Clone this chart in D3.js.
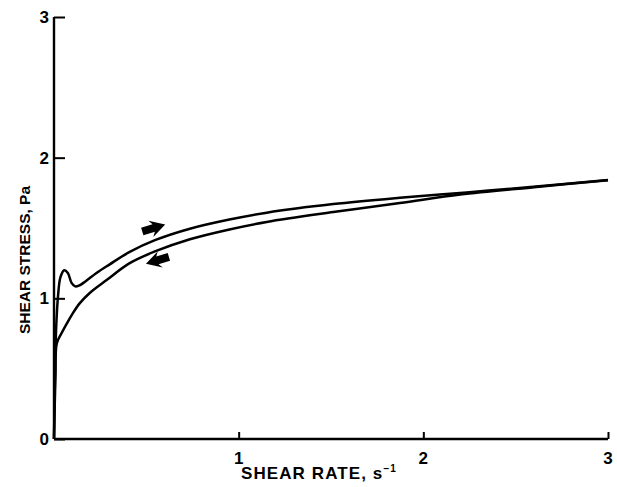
<!DOCTYPE html>
<html>
<head>
<meta charset="utf-8">
<script src="https://cdn.jsdelivr.net/npm/d3@7"></script>
<style>
  html, body { margin: 0; padding: 0; background: #fff; }
  svg { display: block; }
  text { font-family: "Liberation Sans", Arial, sans-serif; fill: #000; }
</style>
</head>
<body>
<svg id="chart" width="617" height="487"></svg>
<script>
// ---- data ----
const xTicks = [1, 2, 3];
const yTicks = [0, 1, 2, 3];
const xTitle = "SHEAR RATE, s";
const yTitle = "SHEAR STRESS, Pa";

// forward (increasing shear rate) curve
const upRate   = [0, 0.006, 0.012, 0.022, 0.035, 0.055, 0.075, 0.095, 0.115, 0.135, 0.17, 0.23, 0.3, 0.41, 0.55, 0.736, 0.95, 1.152, 1.512, 1.873, 2.234, 2.595, 3.0];
const upStress = [0, 0.5, 0.8, 1.02, 1.15, 1.2, 1.18, 1.11, 1.085, 1.09, 1.12, 1.18, 1.24, 1.33, 1.415, 1.495, 1.56, 1.609, 1.67, 1.715, 1.753, 1.793, 1.841];

// return (decreasing shear rate) curve
const downRate   = [0, 0.008, 0.015, 0.04, 0.069, 0.1, 0.14, 0.195, 0.285, 0.41, 0.55, 0.736, 0.95, 1.152, 1.512, 1.873, 2.2, 2.6, 3.0];
const downStress = [0, 0.45, 0.68, 0.75, 0.82, 0.89, 0.966, 1.04, 1.13, 1.25, 1.335, 1.42, 1.49, 1.543, 1.613, 1.677, 1.738, 1.79, 1.84];

// direction arrows: [rate, stress, angle in degrees]
const arrowRate   = [0.54, 0.56];
const arrowStress = [1.50, 1.27];
const arrowAngle  = [-17, 163];

// ---- layout ----
const svg = d3.select("#chart");
const x = d3.scaleLinear().domain([0, 3]).range([54, 608]);
const y = d3.scaleLinear().domain([0, 3]).range([439, 17]);

// axes
const yAxis = d3.axisRight(y).tickValues(yTicks).tickSize(11).tickFormat("");
const gy = svg.append("g").attr("transform", `translate(${x(0)},0)`).call(yAxis);
gy.select(".domain").attr("stroke", "#000").attr("stroke-width", 2.4).attr("d", `M0,${y(0)}V${y(3)}`);
gy.selectAll(".tick line").attr("stroke", "#000").attr("stroke-width", 2);

const xAxis = d3.axisTop(x).tickValues(xTicks).tickSize(7).tickFormat("");
const gx = svg.append("g").attr("transform", `translate(0,${y(0)})`).call(xAxis);
gx.select(".domain").attr("stroke", "#000").attr("stroke-width", 2.4).attr("d", `M${x(0)},0H${x(3)}`);
gx.selectAll(".tick line").attr("stroke", "#000").attr("stroke-width", 2);

// tick labels
svg.selectAll(".ylab").data(yTicks).enter().append("text")
  .attr("x", x(0) - 5).attr("y", d => y(d) + 6)
  .attr("text-anchor", "end").attr("font-size", 17).attr("font-weight", "bold")
  .text(d => d);
svg.selectAll(".xlab").data(xTicks).enter().append("text")
  .attr("x", d => x(d)).attr("y", y(0) + 25)
  .attr("text-anchor", "middle").attr("font-size", 17).attr("font-weight", "bold")
  .text(d => d);

// axis titles
const xt = svg.append("text").attr("x", 319).attr("y", 479)
  .attr("text-anchor", "middle").attr("font-size", 17).attr("font-weight", "bold").attr("letter-spacing", 1.1);
xt.append("tspan").text(xTitle);
xt.append("tspan").attr("dy", -7).attr("font-size", 10).text("−1");

svg.append("text")
  .attr("transform", `translate(30,${260}) rotate(-90)`)
  .attr("text-anchor", "middle").attr("font-size", 15.5).attr("font-weight", "bold")
  .text(yTitle);

// curves
const line = d3.line().x(d => x(d[0])).y(d => y(d[1])).curve(d3.curveCatmullRom.alpha(0.5));
const up = upRate.map((r, i) => [r, upStress[i]]);
const down = downRate.map((r, i) => [r, downStress[i]]);
svg.append("path").attr("d", line(up)).attr("fill", "none").attr("stroke", "#000").attr("stroke-width", 2.5);
svg.append("path").attr("d", line(down)).attr("fill", "none").attr("stroke", "#000").attr("stroke-width", 2.5);

// arrows
const arrowShape = "M-12,-4L0,-4L-3,-8.5L12,0L-3,8.5L0,4L-12,4Z";
arrowRate.forEach((r, i) => {
  svg.append("path")
    .attr("d", arrowShape)
    .attr("transform", `translate(${x(r)},${y(arrowStress[i])}) rotate(${arrowAngle[i]})`)
    .attr("fill", "#000");
});
</script>
</body>
</html>
